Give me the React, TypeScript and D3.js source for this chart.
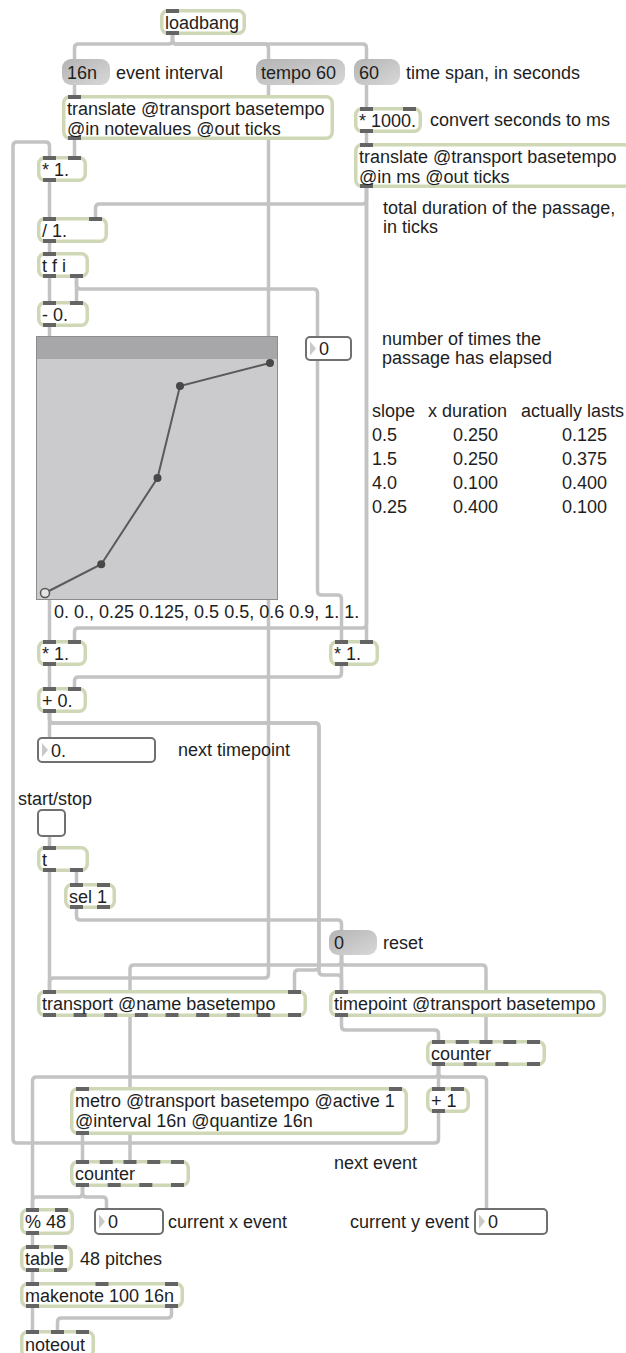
import { useRef, useEffect } from "react";
import * as d3 from "d3";

// breakpoints held by the function object
const curveX = [0, 0.25, 0.5, 0.6, 1];
const curveY = [0, 0.125, 0.5, 0.9, 1];

// the little table of slopes on the right
const tableHead = ["slope", "x duration", "actually lasts"];
const slopes = ["0.5", "1.5", "4.0", "0.25"];
const xDurations = ["0.250", "0.250", "0.100", "0.400"];
const actualLengths = ["0.125", "0.375", "0.400", "0.100"];

type Kind = "obj" | "msg" | "num" | "toggle" | "fn";
type Box = {
  id: string;
  kind: Kind;
  lines: string[];
  x: number;
  y: number;
  w: number;
  h: number;
  ins: number;
  outs: number;
};

const boxes: Box[] = [
  { id: "loadbang", kind: "obj", lines: ["loadbang"], x: 160, y: 9, w: 86, h: 26, ins: 1, outs: 1 },
  { id: "m16n", kind: "msg", lines: ["16n"], x: 62, y: 59, w: 48, h: 26, ins: 1, outs: 1 },
  { id: "mtempo", kind: "msg", lines: ["tempo 60"], x: 256, y: 59, w: 89, h: 26, ins: 1, outs: 1 },
  { id: "m60", kind: "msg", lines: ["60"], x: 354, y: 59, w: 46, h: 26, ins: 1, outs: 1 },
  { id: "tr1", kind: "obj", lines: ["translate @transport basetempo", "@in notevalues @out ticks"], x: 62, y: 95, w: 272, h: 45, ins: 1, outs: 1 },
  { id: "ms", kind: "obj", lines: ["* 1000."], x: 354, y: 107, w: 68, h: 26, ins: 2, outs: 1 },
  { id: "tr2", kind: "obj", lines: ["translate @transport basetempo", "@in ms @out ticks"], x: 354, y: 143, w: 278, h: 45, ins: 1, outs: 1 },
  { id: "mul1", kind: "obj", lines: ["* 1."], x: 37, y: 156, w: 50, h: 26, ins: 2, outs: 1 },
  { id: "div", kind: "obj", lines: ["/ 1."], x: 37, y: 217, w: 71, h: 26, ins: 2, outs: 1 },
  { id: "tfi", kind: "obj", lines: ["t f i"], x: 37, y: 252, w: 52, h: 26, ins: 1, outs: 2 },
  { id: "sub", kind: "obj", lines: ["- 0."], x: 37, y: 301, w: 52, h: 26, ins: 2, outs: 1 },
  { id: "fn", kind: "fn", lines: [], x: 37, y: 336, w: 241, h: 264, ins: 1, outs: 1 },
  { id: "passes", kind: "num", lines: ["0"], x: 305, y: 336, w: 47, h: 25, ins: 1, outs: 1 },
  { id: "mul2", kind: "obj", lines: ["* 1."], x: 37, y: 640, w: 50, h: 26, ins: 2, outs: 1 },
  { id: "mul3", kind: "obj", lines: ["* 1."], x: 329, y: 640, w: 50, h: 26, ins: 2, outs: 1 },
  { id: "add", kind: "obj", lines: ["+ 0."], x: 37, y: 687, w: 50, h: 26, ins: 2, outs: 1 },
  { id: "next", kind: "num", lines: ["0."], x: 37, y: 737, w: 119, h: 26, ins: 1, outs: 1 },
  { id: "toggle", kind: "toggle", lines: [], x: 37, y: 809, w: 29, h: 28, ins: 1, outs: 1 },
  { id: "trig", kind: "obj", lines: ["t"], x: 37, y: 846, w: 52, h: 26, ins: 1, outs: 2 },
  { id: "sel", kind: "obj", lines: ["sel 1"], x: 64, y: 883, w: 52, h: 26, ins: 2, outs: 2 },
  { id: "reset", kind: "msg", lines: ["0"], x: 329, y: 930, w: 48, h: 25, ins: 1, outs: 1 },
  { id: "transport", kind: "obj", lines: ["transport @name basetempo"], x: 37, y: 990, w: 270, h: 27, ins: 2, outs: 9 },
  { id: "timepoint", kind: "obj", lines: ["timepoint @transport basetempo"], x: 329, y: 990, w: 277, h: 27, ins: 1, outs: 1 },
  { id: "cntY", kind: "obj", lines: ["counter"], x: 426, y: 1040, w: 120, h: 26, ins: 5, outs: 4 },
  { id: "metro", kind: "obj", lines: ["metro @transport basetempo @active 1", "@interval 16n @quantize 16n"], x: 70, y: 1087, w: 338, h: 48, ins: 2, outs: 1 },
  { id: "plus1", kind: "obj", lines: ["+ 1"], x: 426, y: 1087, w: 44, h: 26, ins: 2, outs: 1 },
  { id: "cntX", kind: "obj", lines: ["counter"], x: 70, y: 1160, w: 120, h: 27, ins: 5, outs: 4 },
  { id: "mod", kind: "obj", lines: ["% 48"], x: 20, y: 1208, w: 54, h: 27, ins: 2, outs: 1 },
  { id: "curX", kind: "num", lines: ["0"], x: 94, y: 1208, w: 70, h: 27, ins: 1, outs: 1 },
  { id: "curY", kind: "num", lines: ["0"], x: 474, y: 1208, w: 74, h: 27, ins: 1, outs: 1 },
  { id: "table", kind: "obj", lines: ["table"], x: 20, y: 1245, w: 53, h: 27, ins: 2, outs: 2 },
  { id: "makenote", kind: "obj", lines: ["makenote 100 16n"], x: 20, y: 1282, w: 164, h: 26, ins: 3, outs: 2 },
  { id: "noteout", kind: "obj", lines: ["noteout"], x: 20, y: 1330, w: 75, h: 28, ins: 3, outs: 0 },
];

// [from, outlet, to, inlet, route] ; route alternates y (vertical run) and x (horizontal run)
const cords: [string, number, string, number, number[]][] = [
  ["loadbang", 0, "m16n", 0, [44]],
  ["loadbang", 0, "mtempo", 0, [44]],
  ["loadbang", 0, "m60", 0, [44]],
  ["m16n", 0, "tr1", 0, []],
  ["mtempo", 0, "transport", 0, [978]],
  ["m60", 0, "ms", 0, []],
  ["ms", 0, "tr2", 0, []],
  ["tr1", 0, "mul1", 1, []],
  ["plus1", 0, "mul1", 0, [1143, 13, 142]],
  ["mul1", 0, "div", 0, []],
  ["tr2", 0, "div", 1, [204]],
  ["tr2", 0, "mul2", 1, [628]],
  ["tr2", 0, "mul3", 1, []],
  ["div", 0, "tfi", 0, []],
  ["tfi", 0, "sub", 0, []],
  ["tfi", 1, "sub", 1, []],
  ["tfi", 1, "passes", 0, [289]],
  ["passes", 0, "mul3", 0, [595]],
  ["sub", 0, "fn", 0, []],
  ["fn", 0, "mul2", 0, []],
  ["mul2", 0, "add", 0, []],
  ["mul3", 0, "add", 1, [677]],
  ["add", 0, "next", 0, []],
  ["add", 0, "transport", 1, [723, 319, 970]],
  ["add", 0, "timepoint", 0, [723, 319, 975]],
  ["toggle", 0, "trig", 0, []],
  ["trig", 0, "transport", 0, []],
  ["trig", 1, "sel", 0, []],
  ["sel", 0, "reset", 0, [920]],
  ["reset", 0, "timepoint", 0, []],
  ["reset", 0, "cntX", 2, [965]],
  ["reset", 0, "cntY", 2, [965]],
  ["timepoint", 0, "cntY", 0, [1030]],
  ["cntY", 0, "plus1", 0, []],
  ["cntY", 0, "mod", 0, [1077]],
  ["cntY", 0, "curY", 0, [1077]],
  ["metro", 0, "cntX", 0, []],
  ["cntX", 0, "mod", 0, [1197]],
  ["cntX", 0, "curX", 0, [1197]],
  ["mod", 0, "table", 0, []],
  ["table", 0, "makenote", 0, []],
  ["makenote", 0, "noteout", 0, []],
  ["makenote", 1, "noteout", 1, [1318]],
];

const comments: [string, number, number][] = [
  ["event interval", 116, 73],
  ["time span, in seconds", 406, 73],
  ["convert seconds to ms", 430, 120],
  ["total duration of the passage,", 383, 208],
  ["in ticks", 383, 227],
  ["number of times the", 382, 339],
  ["passage has elapsed", 382, 358],
  ["next timepoint", 178, 750],
  ["start/stop", 18, 799],
  ["reset", 383, 943],
  ["next event", 334, 1163],
  ["current x event", 168, 1222],
  ["current y event", 350, 1222],
  ["48 pitches", 80, 1259],
];

const FONT = "'Liberation Sans', Arial, Helvetica, sans-serif";
const PORT_W = 13;
const PORT_IN = 6;

const portX = (b: Box, i: number, n: number) => {
  const first = b.x + PORT_IN + PORT_W / 2;
  const last = b.x + b.w - PORT_IN - PORT_W / 2;
  return n <= 1 ? first : first + (i * (last - first)) / (n - 1);
};

const roundedPath = (pts: [number, number][], r = 4) => {
  let d = `M${pts[0][0]},${pts[0][1]}`;
  for (let i = 1; i < pts.length - 1; i++) {
    const [px, py] = pts[i - 1];
    const [cx, cy] = pts[i];
    const [nx, ny] = pts[i + 1];
    const l1 = Math.hypot(cx - px, cy - py);
    const l2 = Math.hypot(nx - cx, ny - cy);
    const r1 = Math.min(r, l1 / 2, l2 / 2);
    if (r1 <= 0) continue;
    const ax = cx - ((cx - px) / l1) * r1;
    const ay = cy - ((cy - py) / l1) * r1;
    const bx = cx + ((nx - cx) / l2) * r1;
    const by = cy + ((ny - cy) / l2) * r1;
    d += `L${ax},${ay}Q${cx},${cy} ${bx},${by}`;
  }
  const last = pts[pts.length - 1];
  return d + `L${last[0]},${last[1]}`;
};

const App = () => {
  const ref = useRef<SVGSVGElement | null>(null);

  useEffect(() => {
    const svg = d3.select(ref.current);
    svg.selectAll("*").remove();
    const byId = new Map(boxes.map(b => [b.id, b]));

    const defs = svg.append("defs");
    const grad = defs
      .append("linearGradient")
      .attr("id", "msgGrad")
      .attr("x1", 0)
      .attr("y1", 0)
      .attr("x2", 1)
      .attr("y2", 1);
    grad.append("stop").attr("offset", "0%").attr("stop-color", "#b4b4b4");
    grad.append("stop").attr("offset", "100%").attr("stop-color", "#d8d8d8");

    svg.append("rect").attr("width", 626).attr("height", 1353).attr("fill", "#fff");

    // patch cords
    const cordLayer = svg.append("g");
    cords.forEach(([from, o, to, i, route]) => {
      const a = byId.get(from)!;
      const b = byId.get(to)!;
      let cx = portX(a, o, a.outs);
      let cy = a.y + a.h;
      const pts: [number, number][] = [[cx, cy]];
      route.forEach((v, k) => {
        if (k % 2 === 0) cy = v;
        else cx = v;
        pts.push([cx, cy]);
      });
      const ix = portX(b, i, b.ins);
      if (Math.abs(ix - cx) > 0.01) pts.push([ix, cy]);
      pts.push([ix, b.y]);
      cordLayer
        .append("path")
        .attr("d", roundedPath(pts))
        .attr("fill", "none")
        .attr("stroke", "#c3c3c3")
        .attr("stroke-width", 3.5)
        .attr("stroke-linejoin", "round");
    });

    // boxes
    const boxLayer = svg.append("g").attr("font-family", FONT).attr("font-size", 18);
    boxes.forEach(b => {
      const g = boxLayer.append("g");
      if (b.kind === "obj") {
        g.append("rect")
          .attr("x", b.x + 1.75)
          .attr("y", b.y + 1.75)
          .attr("width", b.w - 3.5)
          .attr("height", b.h - 3.5)
          .attr("rx", 6)
          .attr("fill", "#fff")
          .attr("stroke", "#cfd8b6")
          .attr("stroke-width", 3.5);
        d3.range(b.ins).forEach(i =>
          g.append("rect")
            .attr("x", portX(b, i, b.ins) - PORT_W / 2)
            .attr("y", b.y)
            .attr("width", PORT_W)
            .attr("height", 4)
            .attr("fill", "#646464")
        );
        d3.range(b.outs).forEach(i =>
          g.append("rect")
            .attr("x", portX(b, i, b.outs) - PORT_W / 2)
            .attr("y", b.y + b.h - 4)
            .attr("width", PORT_W)
            .attr("height", 4)
            .attr("fill", "#646464")
        );
      } else if (b.kind === "msg") {
        g.append("rect")
          .attr("x", b.x)
          .attr("y", b.y)
          .attr("width", b.w)
          .attr("height", b.h)
          .attr("rx", 9)
          .attr("fill", "url(#msgGrad)");
      } else if (b.kind === "num" || b.kind === "toggle") {
        g.append("rect")
          .attr("x", b.x + 1)
          .attr("y", b.y + 1)
          .attr("width", b.w - 2)
          .attr("height", b.h - 2)
          .attr("rx", 4)
          .attr("fill", "#fff")
          .attr("stroke", "#707070")
          .attr("stroke-width", 2);
        if (b.kind === "num") {
          const my = b.y + b.h / 2;
          g.append("path")
            .attr("d", `M${b.x + 5},${my - 7}L${b.x + 11},${my}L${b.x + 5},${my + 7}Z`)
            .attr("fill", "#c9c9c9");
        }
      } else if (b.kind === "fn") {
        g.append("rect")
          .attr("x", b.x - 0.5)
          .attr("y", b.y + 0.5)
          .attr("width", b.w)
          .attr("height", b.h - 1)
          .attr("fill", "#cbcbcd")
          .attr("stroke", "#8c8c8c");
        g.append("rect")
          .attr("x", b.x)
          .attr("y", b.y + 1)
          .attr("width", b.w - 1)
          .attr("height", 22)
          .attr("fill", "#a7a7a9");

        const xs = d3.scaleLinear().domain([0, 1]).range([b.x + 8, b.x + b.w - 8]);
        const ys = d3.scaleLinear().domain([0, 1]).range([b.y + b.h - 7, b.y + 27]);
        const pts = curveX.map((v, i) => [v, curveY[i]] as [number, number]);
        g.append("path")
          .attr("d", d3.line<[number, number]>().x(d => xs(d[0])).y(d => ys(d[1]))(pts))
          .attr("fill", "none")
          .attr("stroke", "#5a5a5a")
          .attr("stroke-width", 2);
        g.selectAll("circle")
          .data(pts)
          .enter()
          .append("circle")
          .attr("cx", d => xs(d[0]))
          .attr("cy", d => ys(d[1]))
          .attr("r", (_d, i) => (i === 0 ? 4.5 : 4))
          .attr("fill", (_d, i) => (i === 0 ? "#e4e4e4" : "#474747"))
          .attr("stroke", "#555")
          .attr("stroke-width", (_d, i) => (i === 0 ? 1.5 : 0));

        const fmt = (v: number) => (Number.isInteger(v) ? `${v}.` : `${v}`);
        g.append("text")
          .attr("x", b.x + 17)
          .attr("y", b.y + b.h + 12)
          .attr("dominant-baseline", "central")
          .attr("fill", "#1e1e1e")
          .text(pts.map(p => `${fmt(p[0])} ${fmt(p[1])}`).join(", "));
      }

      const tx = b.kind === "num" ? b.x + 14 : b.x + 5;
      b.lines.forEach((line, k) =>
        g.append("text")
          .attr("x", tx)
          .attr("y", b.lines.length > 1 ? b.y + 13.5 + k * 20 : b.y + b.h / 2 + 0.5)
          .attr("dominant-baseline", "central")
          .attr("fill", "#1e1e1e")
          .text(line)
      );
    });

    // comments
    const notes = svg.append("g").attr("font-family", FONT).attr("font-size", 18).attr("fill", "#1e1e1e");
    comments.forEach(([t, x, y]) =>
      notes.append("text").attr("x", x).attr("y", y).attr("dominant-baseline", "central").text(t)
    );

    // slope table
    const rowY = d3.scalePoint<number>().domain(d3.range(slopes.length)).range([435, 507]);
    const headX = [372, 428, 521];
    const colX = [372, 453, 562];
    tableHead.forEach((t, i) =>
      notes.append("text").attr("x", headX[i]).attr("y", 411).attr("dominant-baseline", "central").text(t)
    );
    [slopes, xDurations, actualLengths].forEach((col, c) =>
      col.forEach((v, r) =>
        notes.append("text")
          .attr("x", colX[c])
          .attr("y", rowY(r)!)
          .attr("dominant-baseline", "central")
          .text(v)
      )
    );
  }, []);

  return (
    <svg
      ref={ref}
      width={626}
      height={1353}
      style={{ position: "absolute", left: 0, top: 0, display: "block" }}
    />
  );
};

export default App;
